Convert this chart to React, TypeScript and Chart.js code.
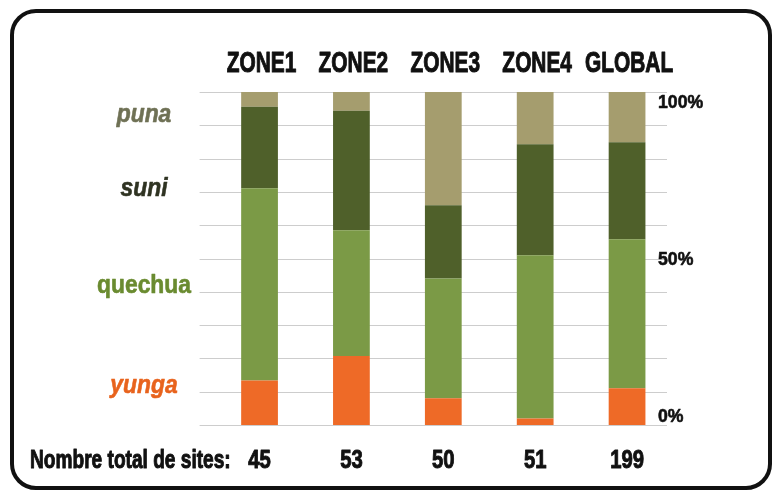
import React, { useEffect, useRef } from "react";
import { Chart, registerables } from "chart.js";

Chart.register(...registerables);

const zones = ["ZONE1", "ZONE2", "ZONE3", "ZONE4", "GLOBAL"];
const totals = [45, 53, 50, 51, 199];
const yunga = [6, 11, 4, 1, 22];
const quechua = [26, 20, 18, 25, 89];
const suni = [11, 19, 11, 17, 58];
const puna = [2, 3, 17, 8, 30];

const seriesNames = ["yunga", "quechua", "suni", "puna"];
const barColors = ["#ee6a27", "#7b9a46", "#4f602a", "#a59d6e"];
const labelColors = ["#e8631d", "#6a8b30", "#2f3322", "#6f7155"];
const labelItalic = [true, false, true, true];
const labelAnchors = [9.6, 39.6, 68.8, 91];

const percentTicks = [0, 50, 100];
const gridValues = [0, 10, 20, 30, 40, 50, 60, 70, 80, 90, 100];
const totalsTitle = "Nombre total de sites:";

const toPct = (arr: number[]) => arr.map((v, i) => (v / totals[i]) * 100);

const FAMILY = "'Liberation Sans', Arial, sans-serif";

function squeezeText(
  ctx: CanvasRenderingContext2D,
  text: string,
  x: number,
  y: number,
  font: string,
  color: string,
  align: CanvasTextAlign,
  baseline: CanvasTextBaseline,
  sx: number,
  stroke = 0
) {
  ctx.save();
  ctx.translate(x, y);
  ctx.scale(sx, 1);
  ctx.font = font;
  ctx.fillStyle = color;
  ctx.textAlign = align;
  ctx.textBaseline = baseline;
  ctx.fillText(text, 0, 0);
  if (stroke > 0) {
    ctx.strokeStyle = color;
    ctx.lineWidth = stroke;
    ctx.lineJoin = "round";
    ctx.strokeText(text, 0, 0);
  }
  ctx.restore();
}

const decorPlugin = {
  id: "decor",
  beforeDatasetsDraw(chart: any) {
    const { ctx, chartArea, scales } = chart;
    const y = scales.y;
    ctx.save();
    ctx.strokeStyle = "#cdcdcd";
    ctx.lineWidth = 1;
    gridValues.forEach((v) => {
      const py = Math.round(y.getPixelForValue(v)) + 0.5;
      ctx.beginPath();
      ctx.moveTo(chartArea.left - 14, py);
      ctx.lineTo(chartArea.right - 6, py);
      ctx.stroke();
    });
    ctx.restore();
  },
  afterDraw(chart: any) {
    const { ctx, chartArea, scales } = chart;
    const x = scales.x;
    const y = scales.y;
    zones.forEach((z, i) => {
      squeezeText(ctx, z, x.getPixelForValue(i) + 2, chartArea.top - 20, `bold 29px ${FAMILY}`, "#111", "center", "alphabetic", 0.72, 1);
    });
    totals.forEach((t, i) => {
      squeezeText(ctx, String(t), x.getPixelForValue(i), chartArea.bottom + 43, `bold 26px ${FAMILY}`, "#111", "center", "alphabetic", 0.78, 1);
    });
    squeezeText(ctx, totalsTitle, 30, chartArea.bottom + 43, `bold 26px ${FAMILY}`, "#111", "left", "alphabetic", 0.735, 1);
    percentTicks.forEach((v) => {
      const py = y.getPixelForValue(v);
      const baseline: CanvasTextBaseline = v === 100 ? "top" : v === 0 ? "bottom" : "middle";
      squeezeText(ctx, v + "%", chartArea.right - 15, py + 1, `bold 19px ${FAMILY}`, "#111", "left", baseline, 0.93, 0.6);
    });
    seriesNames.forEach((n, i) => {
      const py = y.getPixelForValue(labelAnchors[i]);
      const font = `${labelItalic[i] ? "italic " : ""}bold 26px ${FAMILY}`;
      squeezeText(ctx, n, 144, py, font, labelColors[i], "center", "alphabetic", 0.88, 0.6);
    });
  },
};

export default function App() {
  const ref = useRef<HTMLCanvasElement | null>(null);
  useEffect(() => {
    if (!ref.current) return;
    const data = [yunga, quechua, suni, puna];
    const chart = new Chart(ref.current, {
      type: "bar",
      data: {
        labels: zones,
        datasets: seriesNames.map((n, i) => ({
          label: n,
          data: toPct(data[i]),
          backgroundColor: barColors[i],
          borderWidth: 0,
          barPercentage: 0.4,
          categoryPercentage: 1,
        })),
      },
      options: {
        responsive: false,
        animation: false,
        devicePixelRatio: 1,
        layout: { padding: { left: 213.6, right: 99, top: 92, bottom: 67 } },
        plugins: { legend: { display: false }, tooltip: { enabled: false } },
        scales: {
          x: { stacked: true, display: false },
          y: { stacked: true, display: false, min: 0, max: 100 },
        },
      },
      plugins: [decorPlugin],
    });
    return () => chart.destroy();
  }, []);
  return (
    <div style={{ position: "fixed", left: 0, top: 0, width: 772, height: 492, background: "#fff" }}>
      <canvas ref={ref} width={772} height={492} style={{ position: "absolute", left: 0, top: 0 }} />
      <div
        style={{
          position: "absolute",
          left: 10,
          top: 9,
          width: 762,
          height: 481,
          border: "4px solid #111",
          borderRadius: 26,
          boxSizing: "border-box",
          pointerEvents: "none",
        }}
      />
    </div>
  );
}
